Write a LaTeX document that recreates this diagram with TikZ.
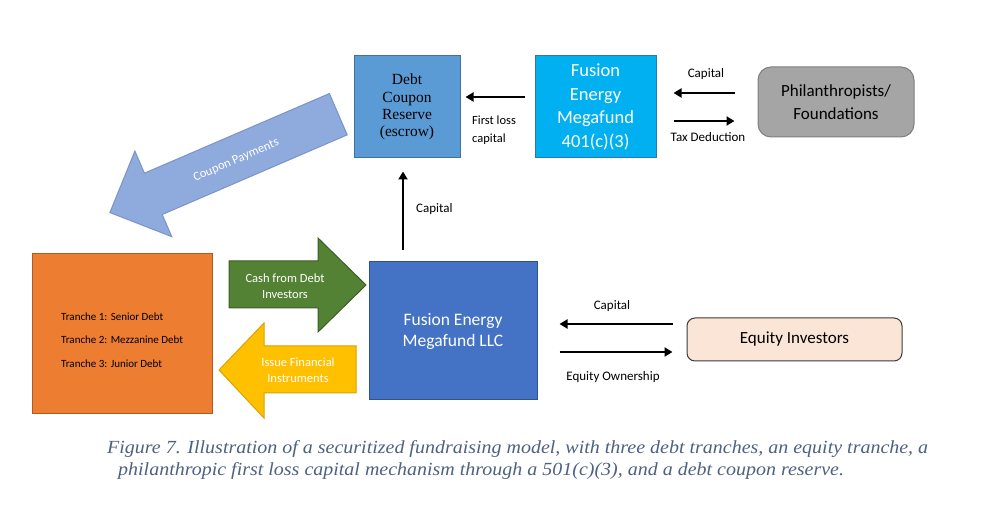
\documentclass[tikz,border=0pt]{standalone}
\usepackage{fontspec}
\setmainfont{Carlito}
\newfontfamily\dcrfont{Liberation Serif}
\newfontfamily\capfont[FakeStretch=1.08]{Liberation Serif}
\usetikzlibrary{arrows.meta,calc}
\definecolor{dcrfill}{HTML}{5B9BD5}
\definecolor{dcrline}{HTML}{41719C}
\definecolor{fundfill}{HTML}{00B0F0}
\definecolor{fundline}{HTML}{2E75B6}
\definecolor{philfill}{HTML}{A5A5A5}
\definecolor{philline}{HTML}{7F7F7F}
\definecolor{llcfill}{HTML}{4472C4}
\definecolor{llcline}{HTML}{2F528F}
\definecolor{orfill}{HTML}{ED7D31}
\definecolor{orline}{HTML}{AE5A21}
\definecolor{eqfill}{HTML}{FBE5D6}
\definecolor{eqline}{HTML}{3A3A3A}
\definecolor{grfill}{HTML}{548235}
\definecolor{grline}{HTML}{3B5E25}
\definecolor{yefill}{HTML}{FFC000}
\definecolor{yeline}{HTML}{D9A300}
\definecolor{cpfill}{HTML}{8FAADC}
\definecolor{cpline}{HTML}{7A94C8}
\definecolor{capcol}{HTML}{4F6182}
\begin{document}
\begin{tikzpicture}[x=1pt,y=-1pt,
  box/.style={draw, line width=1pt, inner sep=0pt, align=center},
  conn/.style={line width=2.6pt, -{Triangle[length=8pt,width=9pt]}},
  lab/.style={font=\fontsize{13}{17}\selectfont, inner sep=0pt, align=center},
  fat/.style={line width=1pt},
  fattext/.style={text=white, font=\fontsize{12.5}{16}\selectfont, align=center, inner sep=0pt}]
\useasboundingbox[fill=white] (0,0) rectangle (983,518);

% boxes
\node[box, fill=dcrfill, draw=dcrline, minimum width=106pt, minimum height=102pt,
  font=\dcrfont\fontsize{15.5}{17.4}\selectfont] (dcr) at (407,107) {Debt\\Coupon\\Reserve\\(escrow)};
\node[box, fill=fundfill, draw=fundline, minimum width=121pt, minimum height=102pt, text=white,
  font=\fontsize{18.5}{23.5}\selectfont] (fund) at (595.5,107) {Fusion\\Energy\\Megafund\\401(c)(3)};
\node[box, fill=philfill, draw=philline, rounded corners=13pt, minimum width=156pt, minimum height=70pt,
  font=\fontsize{17}{23}\selectfont] (phil) at (836,102) {Philanthropists/\\Foundations};
\node[box, fill=llcfill, draw=llcline, minimum width=168pt, minimum height=138pt, text=white,
  font=\fontsize{17.5}{21}\selectfont] (llc) at (453,331) {Fusion Energy\\Megafund LLC};
\node[box, fill=orfill, draw=orline, minimum width=180pt, minimum height=160pt] (tr) at (122,334) {};
\node[anchor=west, align=left, inner sep=0pt, font=\fontsize{11}{23.5}\selectfont] (trtext) at (61,340)
  {Tranche 1: Senior Debt\\Tranche 2: Mezzanine Debt\\Tranche 3: Junior Debt};
\node[box, fill=eqfill, draw=eqline, rounded corners=8pt, minimum width=215pt, minimum height=43pt,
  font=\fontsize{17}{21}\selectfont] (eq) at (794.5,339.5) {Equity Investors};

% thin connectors
\draw[conn] ($(llc.north)+(-50,-11)$) -- ($(dcr.south)+(-4,13)$);
\node[lab, anchor=west] (lcap1) at (416,209) {Capital};
\draw[conn] ($(fund.west)+(-10,-10)$) -- ($(dcr.east)+(5,-10)$);
\node[lab, anchor=west, align=left, font=\fontsize{12.5}{18}\selectfont] (lfl) at (472,130) {First loss\\capital};
\draw[conn] ($(phil.west)+(-23,-9)$) -- ($(fund.east)+(17,-14)$);
\draw[conn] ($(fund.east)+(17,14)$) -- ($(phil.west)+(-23,19)$);
\node[lab] (lcap2) at (706,74) {Capital};
\node[lab] (ltax) at (708,137) {Tax Deduction};
\draw[conn] ($(eq.west)+(-14,-15.5)$) -- ($(llc.east)+(22,-7)$);
\draw[conn] ($(llc.east)+(22,21)$) -- ($(eq.west)+(-14,12.5)$);
\node[lab] (lcap3) at (612,306) {Capital};
\node[lab] (lown) at (613,377) {Equity Ownership};

% fat arrows
\draw[fat, fill=grfill, draw=grline] (229,261) -- (318,261) -- (318,238) -- (366,285) -- (318,332) -- (318,308) -- (229,308) -- cycle;
\node[fattext] (gtext) at (285,286) {Cash from Debt\\Investors};
\draw[fat, fill=yefill, draw=yeline] (219,370) -- (264,323) -- (264,346) -- (356,346) -- (356,393) -- (264,393) -- (264,418) -- cycle;
\node[fattext] (ytext) at (298,370) {Issue Financial\\Instruments};
\begin{scope}[shift={(338.3,114.2)}, rotate=203.3]
  \draw[fat, fill=cpfill, draw=cpline] (0,22.5) -- (201.4,22.5) -- (201.4,46.6) -- (248.7,0) -- (201.4,-46.6) -- (201.4,-22.5) -- (0,-22.5) -- cycle;
  \node[text=white, rotate=23.3, font=\fontsize{12.5}{14}\selectfont, inner sep=0pt] (ctext) at (112,-2) {Coupon Payments};
\end{scope}

% caption
\node[anchor=west, inner sep=0pt, text=capcol, font=\capfont\itshape\fontsize{18.5}{22}\selectfont] (cap1) at (107,449)
  {Figure 7. Illustration of a securitized fundraising model, with three debt tranches, an equity tranche, a};
\node[anchor=west, inner sep=0pt, text=capcol, font=\capfont\itshape\fontsize{18.5}{22}\selectfont] (cap2) at (118,471)
  {philanthropic first loss capital mechanism through a 501(c)(3), and a debt coupon reserve.};
\end{tikzpicture}
\end{document}
